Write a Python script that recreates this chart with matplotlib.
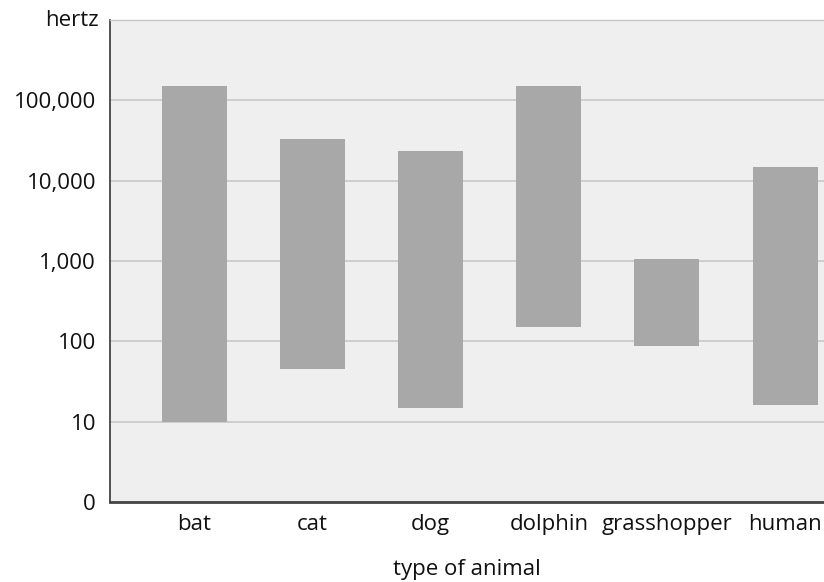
import numpy as np
import matplotlib.pyplot as plt

# 各动物的听觉频率范围 (Hz)
animals = ["bat", "cat", "dog", "dolphin", "grasshopper", "human"]
low_hz = [10, 45, 15, 150, 87, 16]
high_hz = [150000, 32600, 23300, 150000, 1050, 15000]

ytick_vals = [1, 10, 100, 1000, 10000, 100000]
ytick_labels = ["0", "10", "100", "1,000", "10,000", "100,000"]

plt.rcParams['font.family'] = ['Open Sans', 'DejaVu Sans']

fig = plt.figure(figsize=(8.24, 5.82), dpi=100)
ax = fig.add_axes([0.1335, 0.1375, 0.8665, 0.828])
ax.set_facecolor("#efefef")

x = np.arange(len(animals))
low = np.array(low_hz)
high = np.array(high_hz)
ax.bar(x, high - low, bottom=low, width=0.55, color="#a8a8a8", zorder=3)

ax.set_yscale("log")
ax.set_ylim(1, 1e6)
ax.set_xlim(-0.716, 5.33)
ax.set_yticks(ytick_vals)
ax.set_yticklabels(ytick_labels)
ax.minorticks_off()
ax.set_xticks(x)
ax.set_xticklabels(animals)
ax.yaxis.grid(True, color="#c8c8c8", linewidth=1.2, zorder=1)

ax.tick_params(axis="y", length=0, pad=10, labelsize=16, colors="#111111")
ax.tick_params(axis="x", length=0, pad=9, labelsize=16, colors="#111111")

ax.spines["right"].set_visible(False)
ax.spines["top"].set_color("#c4c4c4")
ax.spines["top"].set_linewidth(1)
ax.spines["left"].set_color("#444444")
ax.spines["left"].set_linewidth(1.3)
ax.spines["bottom"].set_color("#444444")
ax.spines["bottom"].set_linewidth(2)

ax.text(-0.016, 1.0, "hertz", transform=ax.transAxes, ha="right", va="center",
        fontsize=16, color="#111111")
ax.set_xlabel("type of animal", fontsize=16, color="#111111", labelpad=17)

plt.savefig("out.png")
